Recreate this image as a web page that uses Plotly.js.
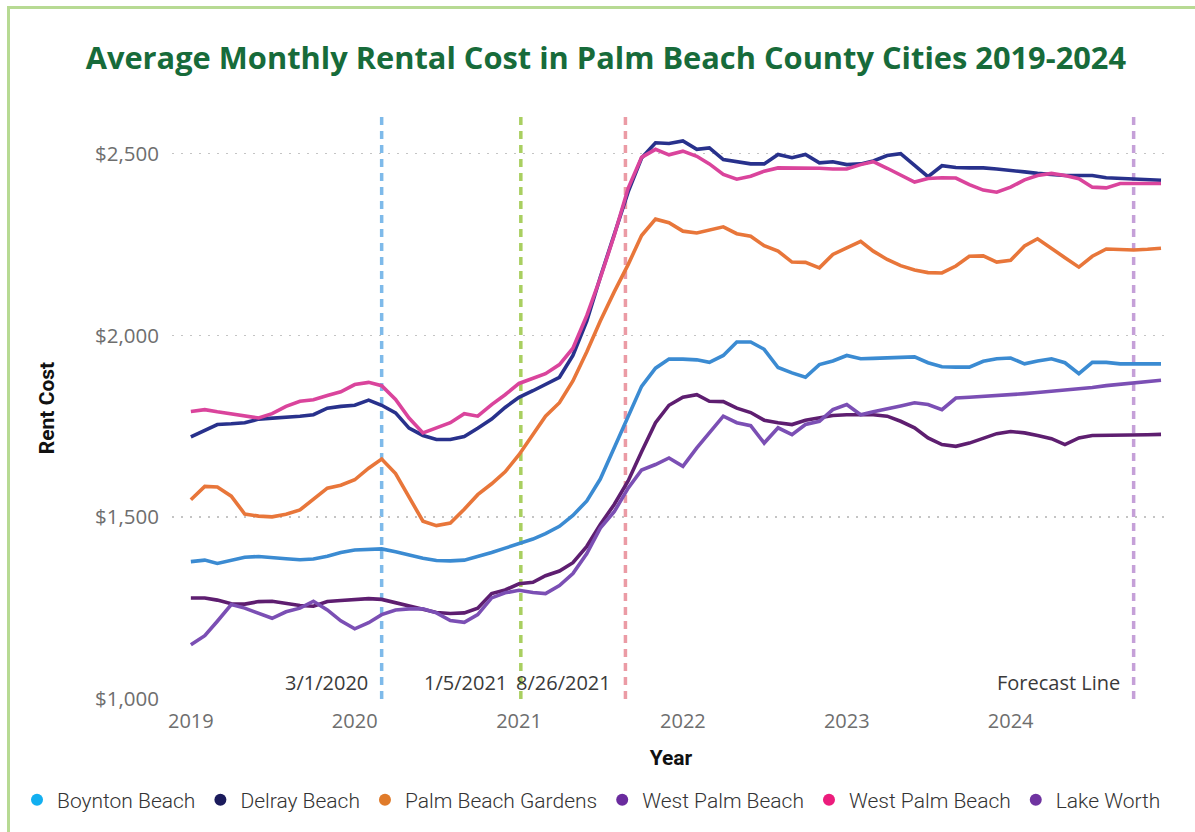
<!DOCTYPE html>
<html>
<head>
<meta charset="utf-8">
<script src="https://cdn.plot.ly/plotly-3.0.1.min.js"></script>
<style>
  html, body { margin: 0; padding: 0; background: #ffffff; }
  #frame { position: absolute; left: 0; top: 0; width: 1195px; height: 832px; overflow: hidden; }
  #border { position: absolute; left: 7px; top: 6px; width: 1300px; height: 900px;
            border-left: 3px solid #b7da93; border-top: 3px solid #b7da93; }
  #chart { position: absolute; left: 0; top: 0; width: 1195px; height: 832px; }
</style>
</head>
<body>
<div id="frame">
  <div id="chart"></div>
  <div id="border"></div>
</div>
<script>
// ---- data (monthly, Jan 2019 - Dec 2024) ----
const startYear = 2019;
const endYear = 2024;
const months = [];
for (let y = startYear; y <= endYear; y++) {
  for (let m = 1; m <= 12; m++) months.push(y + '-' + String(m).padStart(2, '0') + '-01');
}

const seriesNames = ['Boynton Beach', 'Delray Beach', 'Palm Beach Gardens', 'West Palm Beach', 'West Palm Beach', 'Lake Worth'];

const boyntonBeach = [
  1378, 1382, 1373, 1382, 1390, 1392, 1390, 1386, 1383, 1385, 1393, 1403,
  1410, 1412, 1413, 1405, 1395, 1387, 1381, 1380, 1382, 1392, 1403, 1415,
  1428, 1440, 1455, 1475, 1505, 1545, 1605, 1690, 1780, 1860, 1910, 1935,
  1935, 1933, 1926, 1945, 1982, 1982, 1962, 1912, 1897, 1885, 1920, 1930,
  1945, 1936, 1937, 1938, 1940, 1941, 1925, 1914, 1913, 1913, 1929, 1936,
  1938, 1922, 1930, 1936, 1925, 1895, 1926, 1926, 1922, 1922, 1922, 1922
];
const delrayBeach = [
  1721, 1740, 1755, 1757, 1760, 1770, 1772, 1775, 1778, 1782, 1800, 1805,
  1808, 1822, 1808, 1787, 1745, 1725, 1714, 1714, 1722, 1745, 1770, 1802,
  1830, 1848, 1865, 1885, 1945, 2040, 2160, 2280, 2395, 2488, 2530, 2528,
  2535, 2512, 2516, 2484, 2478, 2472, 2472, 2498, 2489, 2498, 2475, 2478,
  2470, 2472, 2480, 2495, 2500, 2468, 2437, 2467, 2462, 2461, 2461, 2458,
  2455, 2450, 2446, 2442, 2440, 2440, 2440, 2434, 2432, 2430, 2428, 2427
];
const palmBeachGardens = [
  1548, 1585, 1583, 1558, 1509, 1503, 1501, 1508, 1520, 1548, 1580, 1588,
  1603, 1635, 1660, 1620, 1556, 1489, 1477, 1484, 1522, 1562, 1592, 1625,
  1672, 1730, 1778, 1815, 1875, 1955, 2040, 2120, 2195, 2275, 2320, 2310,
  2287, 2282, 2290, 2299, 2280, 2273, 2247, 2232, 2202, 2201, 2186, 2223,
  2241, 2259, 2232, 2209, 2192, 2180, 2173, 2172, 2191, 2218, 2219, 2202,
  2207, 2246, 2266, 2241, 2214, 2188, 2218, 2238, 2236, 2235, 2237, 2240
];
const westPalmBeach = [
  1278, 1278, 1272, 1262, 1261, 1268, 1269, 1262, 1257, 1255, 1268, 1271,
  1273, 1276, 1274, 1265, 1255, 1247, 1238, 1235, 1237, 1250, 1290, 1300,
  1317, 1321, 1339, 1352, 1375, 1420, 1480, 1535, 1600, 1680, 1760, 1808,
  1830, 1837, 1819, 1818, 1800, 1788, 1767, 1760, 1755, 1767, 1773, 1780,
  1782, 1782, 1782, 1778, 1764, 1746, 1718, 1700, 1695, 1704, 1718, 1730,
  1736, 1732, 1725, 1716, 1700, 1718, 1725, 1725, 1725, 1726, 1727, 1728
];
const westPalmBeachPink = [
  1791, 1796, 1790, 1784, 1778, 1773, 1785, 1805, 1819, 1823, 1835, 1845,
  1865, 1871, 1862, 1824, 1773, 1732, 1746, 1760, 1785, 1778, 1810, 1837,
  1868, 1882, 1895, 1920, 1965, 2055, 2158, 2275, 2405, 2490, 2512, 2497,
  2507, 2493, 2472, 2443, 2430, 2438, 2452, 2461, 2461, 2460, 2460, 2458,
  2458, 2470, 2478, 2460, 2440, 2422, 2432, 2434, 2433, 2415, 2400, 2394,
  2408, 2428, 2440, 2446, 2440, 2431, 2408, 2406, 2418, 2418, 2418, 2418
];
const lakeWorth = [
  1149, 1174, 1214, 1260, 1250, 1235, 1222, 1240, 1250, 1269, 1245, 1215,
  1193, 1210, 1232, 1245, 1248, 1248, 1237, 1216, 1211, 1232, 1278, 1292,
  1299, 1293, 1290, 1312, 1345, 1400, 1470, 1515, 1580, 1630, 1645, 1663,
  1640, 1691, 1732, 1778, 1760, 1752, 1704, 1746, 1727, 1755, 1764, 1796,
  1810, 1782, 1790, 1797, 1806, 1815, 1810, 1796, 1828, 1830, 1832, 1834,
  1837, 1840, 1843, 1846, 1850, 1853, 1857, 1862, 1866, 1869, 1873, 1877
];

const lineColors = ['#3b8bd2', '#28318c', '#e8763a', '#5e1e70', '#da449c', '#7b4fb4'];
const legendColors = ['#12aff0', '#1b1b5c', '#e07b2a', '#6a2b9e', '#ec1c7c', '#6f33a0'];

const eventDates = ['2020-03-01', '2021-01-05', '2021-08-26', '2024-10-01'];
const eventLabels = ['3/1/2020', '1/5/2021', '8/26/2021', 'Forecast Line'];
const eventColors = ['#7ebaea', '#a9cf60', '#eb9ba5', '#c5a0d8'];

const yTickVals = [1000, 1500, 2000, 2500];
const yTickText = ['$1,000', '$1,500', '$2,000', '$2,500'];
const xTickYears = ['2019', '2020', '2021', '2022', '2023', '2024'];

// ---- traces ----
const allSeries = [boyntonBeach, delrayBeach, palmBeachGardens, westPalmBeach, westPalmBeachPink, lakeWorth];
const traces = [];
allSeries.forEach((vals, i) => {
  traces.push({
    type: 'scatter', mode: 'lines', x: months, y: vals, name: seriesNames[i],
    line: { color: lineColors[i], width: 3.6 }, showlegend: false, hoverinfo: 'x+y+name'
  });
});
seriesNames.forEach((n, i) => {
  traces.push({
    type: 'scatter', mode: 'markers', x: [null], y: [null], name: n,
    marker: { color: legendColors[i], size: 12, symbol: 'circle' }, showlegend: true, hoverinfo: 'skip'
  });
});

const shapes = eventDates.map((d, i) => ({
  type: 'line', xref: 'x', yref: 'paper', x0: d, x1: d, y0: 0, y1: 1,
  line: { color: eventColors[i], width: 3.5, dash: '8px,6px' }, layer: 'below'
}));
const annotations = eventDates.map((d, i) => ({
  x: d, xref: 'x', y: 0.028, yref: 'paper', text: eventLabels[i], showarrow: false,
  xanchor: 'right', yanchor: 'middle', xshift: -12,
  font: { family: 'Open Sans, sans-serif', size: 20, color: '#3a3a3a' }
}));

const plotL = 172, plotR = 1170, plotT = 117, plotB = 699;
const layout = {
  width: 1195, height: 832,
  paper_bgcolor: 'rgba(0,0,0,0)', plot_bgcolor: 'rgba(0,0,0,0)',
  margin: { l: plotL, r: 1195 - plotR, t: plotT, b: 832 - plotB, autoexpand: false },
  title: {
    text: 'Average Monthly Rental Cost in Palm Beach County Cities 2019-2024',
    x: 0.507, xanchor: 'center', y: 0.93, yanchor: 'middle',
    font: { family: 'Open Sans, sans-serif', size: 30.8, weight: 700, color: '#176b3a' }
  },
  xaxis: {
    type: 'date', range: ['2018-11-20', '2024-12-21'],
    tickvals: xTickYears.map(y => y + '-01-01'), ticktext: xTickYears,
    showgrid: false, zeroline: false, showline: false, ticks: '', ticklabelstandoff: 8,
    tickfont: { family: 'Open Sans, sans-serif', size: 20, color: '#6e6e6e' },
    title: { text: 'Year', standoff: 17, font: { family: 'Roboto, sans-serif', size: 21, weight: 700, color: '#111' } }
  },
  yaxis: {
    range: [1000, 2601], tickvals: yTickVals, ticktext: yTickText,
    showgrid: true, gridcolor: '#c4c4c4', gridwidth: 1.5, griddash: '1.5px,7.5px',
    zeroline: false, showline: false, ticks: '', ticklabelstandoff: 12,
    tickfont: { family: 'Open Sans, sans-serif', size: 20.5, color: '#6e6e6e' },
    title: { text: 'Rent Cost', standoff: 34, font: { family: 'Roboto, sans-serif', size: 21, weight: 700, color: '#111' } }
  },
  legend: {
    orientation: 'h', xref: 'paper', x: (17 - plotL) / (plotR - plotL), xanchor: 'left',
    yref: 'paper', y: (plotB - 800) / (plotB - plotT), yanchor: 'middle',
    font: { family: 'Roboto, sans-serif', size: 21, weight: 300, color: '#333' },
    itemwidth: 30, traceorder: 'normal'
  },
  shapes: shapes,
  annotations: annotations,
  showlegend: true
};

Plotly.newPlot('chart', traces, layout, { displayModeBar: false, staticPlot: true });
</script>
</body>
</html>
